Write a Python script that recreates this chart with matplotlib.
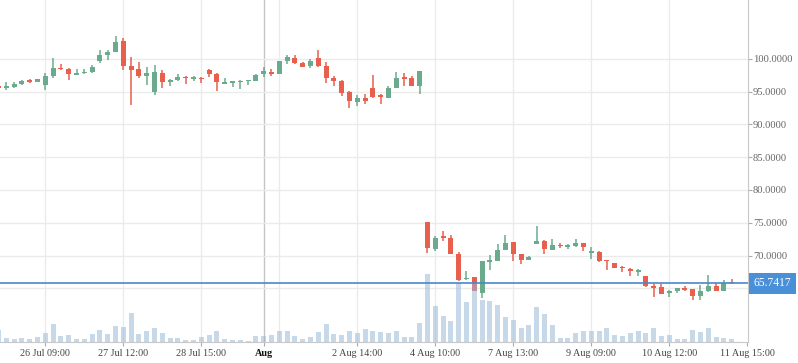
import matplotlib.pyplot as plt
import numpy as np
from matplotlib.transforms import blended_transform_factory

plt.rcParams['font.family'] = ['Liberation Serif', 'DejaVu Serif']

# candles, one per bar index
opens = [95.66, 95.57, 95.67, 96.18, 96.79, 96.48, 96.02, 97.35, 98.57, 98.42,
         97.55, 97.81, 97.96, 99.69, 100.61, 101.07, 102.70, 98.88, 98.42, 97.40,
         94.95, 97.81, 96.48, 96.74, 97.20, 96.94, 96.94, 98.27, 97.66, 96.18,
         96.33, 96.43, 96.53, 96.59, 97.71, 98.01, 97.71, 99.69, 100.10, 99.39,
         98.93, 100.10, 98.88, 97.04, 96.64, 94.90, 93.37, 93.99, 95.51, 94.50,
         94.04, 95.51, 97.04, 97.04, 95.87,
         75.05, 71.05, 72.80, 72.65, 70.25, 66.40, 66.65, 64.25, 69.05, 69.10,
         70.85, 72.05, 70.25, 69.25, 71.80, 72.25, 70.90, 71.55, 71.35, 71.50,
         71.90, 70.40, 70.55, 69.20, 68.90, 68.20, 68.00, 67.50, 66.80, 65.30,
         65.15, 64.30, 64.60, 64.90, 64.85, 63.80, 64.55, 65.30, 64.60, 65.85]
highs = [95.70, 96.43, 96.43, 96.79, 96.94, 96.89, 97.81, 100.10, 99.18, 98.57,
         98.37, 98.37, 99.03, 101.33, 101.33, 103.47, 103.16, 100.20, 99.49, 98.73,
         99.03, 98.27, 96.89, 97.66, 97.35, 97.35, 97.15, 98.47, 97.86, 97.04,
         96.43, 96.74, 96.79, 97.66, 98.73, 98.47, 99.64, 100.56, 100.56, 99.49,
         99.95, 101.33, 99.49, 97.35, 96.74, 95.11, 94.44, 94.60, 97.50, 94.65,
         95.82, 97.96, 97.81, 97.30, 98.11,
         75.05, 72.95, 73.70, 73.10, 70.60, 67.70, 66.65, 69.10, 70.10, 71.75,
         73.10, 72.05, 70.25, 70.00, 74.50, 72.35, 72.50, 71.95, 71.75, 72.45,
         71.90, 71.25, 70.65, 69.35, 68.90, 68.45, 68.15, 68.00, 66.90, 65.70,
         65.60, 64.75, 65.00, 65.35, 64.85, 65.45, 67.10, 65.75, 66.20, 66.40]
lows = [95.55, 95.21, 95.51, 95.92, 96.23, 96.48, 95.21, 97.09, 98.27, 96.74,
        97.55, 97.71, 97.86, 99.39, 99.85, 101.07, 98.32, 92.97, 97.09, 96.02,
        94.50, 95.57, 95.87, 96.53, 96.18, 96.64, 96.33, 97.25, 95.11, 96.18,
        95.72, 95.41, 96.02, 96.59, 97.20, 97.40, 97.71, 99.24, 99.24, 98.78,
        98.62, 98.73, 96.33, 95.87, 94.34, 92.51, 92.81, 93.12, 93.99, 93.12,
        94.04, 95.51, 95.87, 95.87, 94.65,
        70.45, 70.75, 72.25, 70.30, 66.10, 66.25, 64.55, 63.50, 67.85, 69.10,
        70.85, 69.20, 68.65, 69.25, 71.70, 70.30, 70.90, 71.10, 71.00, 71.25,
        70.75, 69.40, 68.95, 67.80, 68.05, 67.50, 66.85, 66.85, 65.20, 63.70,
        64.15, 63.75, 64.30, 64.65, 63.25, 63.25, 64.40, 64.60, 64.60, 65.60]
closes = [95.60, 95.72, 96.13, 96.64, 96.48, 96.89, 97.35, 98.57, 98.42, 97.71,
          97.66, 98.01, 98.73, 100.56, 101.02, 102.55, 98.93, 98.32, 97.40, 97.76,
          97.96, 96.48, 96.74, 97.15, 97.04, 97.04, 96.84, 97.71, 96.48, 96.43,
          96.43, 96.59, 96.69, 97.45, 98.11, 97.71, 99.64, 100.25, 99.39, 98.78,
          99.64, 98.93, 97.09, 96.59, 94.80, 93.58, 93.99, 93.58, 94.19, 94.19,
          95.51, 97.04, 96.94, 95.87, 98.11,
          71.20, 72.65, 72.70, 70.30, 66.25, 66.50, 64.65, 69.10, 69.15, 70.85,
          71.95, 70.30, 69.25, 69.75, 72.25, 71.05, 71.60, 71.45, 71.45, 71.95,
          71.30, 70.60, 69.10, 69.10, 68.05, 68.10, 67.70, 67.60, 65.35, 65.05,
          64.15, 64.55, 65.00, 64.80, 63.80, 64.55, 65.30, 64.60, 65.75, 65.7417]
volumes = [12.3, 4.3, 3.3, 4.3, 3.3, 5.3, 9.3, 18.3, 6.3, 7.3,
           3.3, 3.3, 8.3, 12.3, 8.3, 16.3, 15.3, 29.3, 8.3, 11.3,
           14.3, 9.3, 4.3, 4.3, 2.3, 2.3, 5.3, 7.3, 11.3, 3.3,
           2.3, 2.3, 1.3, 6.3, 6.3, 7.3, 11.3, 11.3, 6.3, 3.3,
           5.3, 10.3, 18.3, 8.3, 7.3, 11.3, 9.3, 13.3, 11.3, 10.3,
           9.3, 11.3, 5.3, 5.3, 19.3,
           68.5, 36.3, 26.3, 21.3, 59.5, 40.3, 59.0, 42.3, 41.3, 37.3,
           25.3, 22.5, 14.7, 17.5, 35.7, 28.5, 17.5, 4.5, 4.5, 9.7,
           11.5, 11.5, 11.5, 14.5, 7.5, 6.5, 9.5, 11.5, 9.5, 14.5,
           6.7, 7.5, 3.5, 3.5, 12.5, 10.5, 14.5, 5.5, 4.5, 3.5]

tick_idx = [6, 16, 26, 34, 46, 56, 66, 76, 86, 96]
tick_labels = ['26 Jul 09:00', '27 Jul 12:00', '28 Jul 15:00', 'Aug', '2 Aug 14:00',
               '4 Aug 10:00', '7 Aug 13:00', '9 Aug 09:00', '10 Aug 12:00', '11 Aug 15:00']
grid_idx = [6, 16, 26, 36, 46, 56, 66, 76, 86]
month_idx = 34
price_ticks = [65, 70, 75, 80, 85, 90, 95, 100]
last_price = 65.7417

up_col = '#6aab8e'
down_col = '#e8604d'

x = np.arange(len(opens))
o = np.array(opens); c = np.array(closes)
h = np.array(highs); l = np.array(lows)
cols = [up_col if cc >= oo else down_col for oo, cc in zip(o, c)]
body_lo = np.minimum(o, c)
body_h = np.maximum(np.abs(c - o), 0.22)

fig = plt.figure(figsize=(7.98, 3.63), dpi=100)
ax = fig.add_axes([0, 0.0565, 0.9373, 0.9435])
# volume on its own scale, drawn over candles
ax2 = ax.twinx()

ax.vlines(x, l, h, color=cols, linewidth=1.1, zorder=3)
ax.bar(x, body_h, bottom=body_lo, width=0.64, color=cols, zorder=3)

ax.set_xlim(0.19, 96.09)
ax.set_ylim(56.74, 108.95)

# grid
for g in grid_idx:
    ax.axvline(g, color='#ebebeb', linewidth=1, zorder=0)
ax.axvline(month_idx, color='#c4c4c4', linewidth=1, zorder=1)
ax.set_yticks(price_ticks)
ax.set_yticklabels(['' if p == 65 else f'{p:.4f}' for p in price_ticks])
ax.yaxis.tick_right()
ax.yaxis.set_label_position('right')
ax.grid(axis='y', color='#ebebeb', linewidth=1, zorder=0)
ax.tick_params(axis='y', length=3, pad=0.5, color='#aaaaaa', labelcolor='#666666', labelsize=7.6)

ax.set_xticks(tick_idx)
ax.set_xticklabels(tick_labels)
ax.tick_params(axis='x', length=3, pad=2, color='#aaaaaa', labelcolor='#444444', labelsize=7.3)
for t in ax.get_xticklabels():
    if t.get_text() == 'Aug':
        t.set_color('#111111')
        t.set_fontweight('bold')

for s in ['top', 'left']:
    ax.spines[s].set_visible(False)
ax.spines['right'].set_color('#c8c8c8')
ax.spines['bottom'].set_color('#c8c8c8')

ax2.bar(x, volumes, width=0.64, color='#9ab8d8', alpha=0.55, zorder=2)
ax2.set_ylim(0, 342.5)
ax2.set_yticks([])
for s in ax2.spines.values():
    s.set_visible(False)

tr = blended_transform_factory(ax2.transAxes, ax.transData)
ax2.plot([0, 1], [last_price, last_price], transform=tr, color='#4a88cc', linewidth=1.2, zorder=5)
ax2.text(1.0075, last_price, f'{last_price:.4f}', transform=tr, ha='left', va='center',
         color='white', fontsize=8.3, clip_on=False,
         bbox=dict(boxstyle='square,pad=0.42', fc='#4a90d9', ec='none'))

fig.savefig('out.png', dpi=100)
